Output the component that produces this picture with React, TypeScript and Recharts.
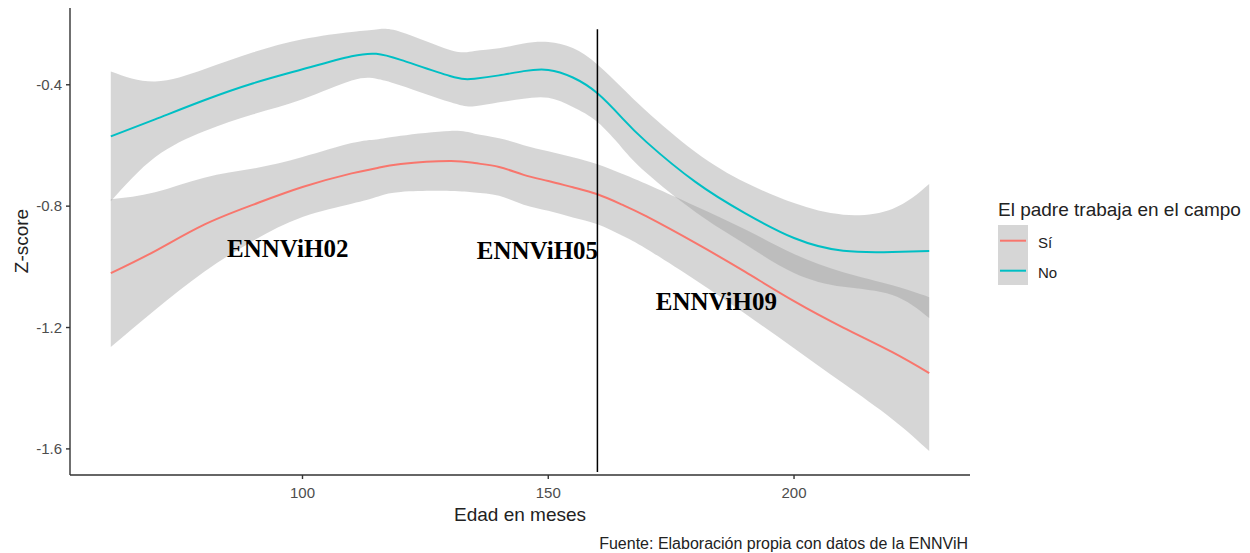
import React from 'react';
import {
  ComposedChart,
  Area,
  Line,
  XAxis,
  YAxis,
  ReferenceLine,
  ReferenceDot,
} from 'recharts';

// Edad en meses at which the loess fits were sampled
const months = [61, 70, 80, 90, 100, 110, 115, 120, 130, 135, 140, 145, 150, 155, 160, 165, 170, 180, 190, 200, 210, 220, 227.5];

// El padre trabaja en el campo = Sí
const siFit = [-1.021, -0.948, -0.861, -0.795, -0.737, -0.692, -0.675, -0.661, -0.651, -0.658, -0.671, -0.697, -0.717, -0.738, -0.761, -0.795, -0.834, -0.922, -1.016, -1.113, -1.2, -1.281, -1.35];
const siUpper = [-0.777, -0.754, -0.706, -0.676, -0.638, -0.592, -0.58, -0.568, -0.552, -0.561, -0.576, -0.599, -0.619, -0.639, -0.662, -0.693, -0.727, -0.8, -0.876, -0.958, -1.018, -1.061, -1.1];
const siLower = [-1.264, -1.142, -1.016, -0.914, -0.836, -0.792, -0.77, -0.753, -0.75, -0.755, -0.766, -0.795, -0.815, -0.837, -0.86, -0.897, -0.941, -1.044, -1.154, -1.268, -1.384, -1.502, -1.607];

// El padre trabaja en el campo = No
const noFit = [-0.57, -0.514, -0.451, -0.395, -0.349, -0.306, -0.298, -0.318, -0.371, -0.38, -0.369, -0.355, -0.351, -0.376, -0.428, -0.509, -0.589, -0.721, -0.823, -0.905, -0.947, -0.951, -0.948];
const noUpper = [-0.356, -0.389, -0.349, -0.293, -0.25, -0.226, -0.218, -0.226, -0.285, -0.289, -0.28, -0.264, -0.259, -0.279, -0.333, -0.41, -0.487, -0.622, -0.721, -0.79, -0.828, -0.809, -0.727];
const noLower = [-0.784, -0.639, -0.553, -0.497, -0.448, -0.386, -0.38, -0.402, -0.457, -0.471, -0.458, -0.446, -0.443, -0.473, -0.523, -0.608, -0.691, -0.82, -0.925, -1.02, -1.066, -1.093, -1.169];

const xTicks = [100, 150, 200];
const yTicks = [-1.6, -1.2, -0.8, -0.4];

// survey waves written over the plot
const waves = [
  { label: 'ENNViH02', x: 97, y: -0.969 },
  { label: 'ENNViH05', x: 147.8, y: -0.974 },
  { label: 'ENNViH09', x: 184.2, y: -1.142 },
];
const cutMonth = 160;

const RED = '#F8766D';
const TEAL = '#00BFC4';
const SANS = '"Liberation Sans", Arial, Helvetica, sans-serif';

const rows = months.map((m, i) => ({
  month: m,
  siFit: siFit[i],
  siBand: [siLower[i], siUpper[i]],
  noFit: noFit[i],
  noBand: [noLower[i], noUpper[i]],
}));

const XTick = ({ x, y, payload }: any) => (
  <text x={x} y={y} dy="0.71em" textAnchor="middle" fontFamily={SANS} fontSize={15} fill="#4D4D4D">
    {payload.value}
  </text>
);

const YTick = ({ x, y, payload }: any) => (
  <text x={x} y={y} dy="0.35em" textAnchor="end" fontFamily={SANS} fontSize={15} fill="#4D4D4D">
    {payload.value.toFixed(1)}
  </text>
);

const waveText = (label: string) => (p: any) => (
  <text
    x={p.cx}
    y={p.cy}
    textAnchor="middle"
    fontFamily='"Liberation Serif", "Times New Roman", serif'
    fontWeight="bold"
    fontSize={25}
    fill="#000"
  >
    {label}
  </text>
);

export default function App() {
  return (
    <div style={{ position: 'absolute', left: 0, top: 0, width: 1250, height: 553, background: '#fff', fontFamily: SANS }}>
      <ComposedChart width={1250} height={553} data={rows} margin={{ top: 8, right: 280, bottom: 48, left: 0 }}>
        <XAxis
          type="number"
          dataKey="month"
          domain={[52.7, 235.8]}
          ticks={xTicks}
          allowDataOverflow
          height={30}
          tickSize={4}
          tickMargin={8}
          tick={<XTick />}
          stroke="#333"
          strokeWidth={1.4}
        />
        <YAxis
          type="number"
          domain={[-1.686, -0.147]}
          ticks={yTicks}
          allowDataOverflow
          width={70}
          tickSize={4}
          tickMargin={4}
          tick={<YTick />}
          stroke="#333"
          strokeWidth={1.4}
        />
        <Area dataKey="siBand" type="natural" stroke="none" fill="#999999" fillOpacity={0.4} isAnimationActive={false} activeDot={false} />
        <Line dataKey="siFit" type="natural" stroke={RED} strokeWidth={2} dot={false} activeDot={false} isAnimationActive={false} />
        <Area dataKey="noBand" type="natural" stroke="none" fill="#999999" fillOpacity={0.4} isAnimationActive={false} activeDot={false} />
        <Line dataKey="noFit" type="natural" stroke={TEAL} strokeWidth={2} dot={false} activeDot={false} isAnimationActive={false} />
        <ReferenceLine
          segment={[{ x: cutMonth, y: -0.217 }, { x: cutMonth, y: -1.676 }]}
          stroke="#000"
          strokeWidth={1.5}
          ifOverflow="visible"
        />
        {waves.map((w) => (
          <ReferenceDot key={w.label} x={w.x} y={w.y} r={0} ifOverflow="visible" shape={waveText(w.label)} />
        ))}
      </ComposedChart>

      {/* axis titles */}
      <div style={{ position: 'absolute', left: 0, width: 1040, top: 505, textAlign: 'center', fontSize: 19, lineHeight: '19px', color: '#222' }}>
        Edad en meses
      </div>
      <div
        style={{
          position: 'absolute',
          left: 20.5,
          top: 241,
          transform: 'translate(-50%, -50%) rotate(-90deg)',
          fontSize: 19,
          lineHeight: '19px',
          color: '#222',
          whiteSpace: 'nowrap',
        }}
      >
        Z-score
      </div>

      {/* legend */}
      <div style={{ position: 'absolute', left: 998, top: 200, fontSize: 19, lineHeight: '19px', color: '#222', whiteSpace: 'nowrap' }}>
        El padre trabaja en el campo
      </div>
      <svg style={{ position: 'absolute', left: 998, top: 225 }} width={32} height={60}>
        <rect x={0} y={0} width={30} height={60} fill="#D6D6D6" />
        <line x1={2} x2={28} y1={15.7} y2={15.7} stroke={RED} strokeWidth={2} />
        <line x1={2} x2={28} y1={45.7} y2={45.7} stroke={TEAL} strokeWidth={2} />
      </svg>
      <div style={{ position: 'absolute', left: 1038, top: 234, fontSize: 15, lineHeight: '18px', color: '#222' }}>Sí</div>
      <div style={{ position: 'absolute', left: 1038, top: 264, fontSize: 15, lineHeight: '18px', color: '#222' }}>No</div>

      {/* source note */}
      <div style={{ position: 'absolute', left: 0, width: 968, top: 535.5, textAlign: 'right', fontSize: 16, lineHeight: '16px', color: '#222', whiteSpace: 'nowrap' }}>
        Fuente: Elaboración propia con datos de la ENNViH
      </div>
    </div>
  );
}
